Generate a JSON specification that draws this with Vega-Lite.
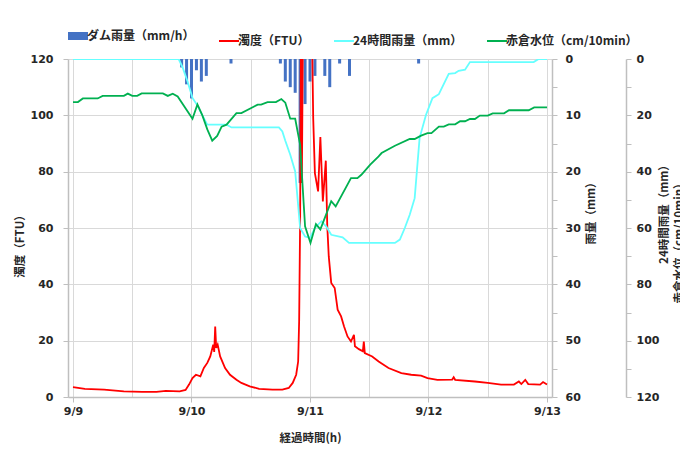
{
  "$schema": "https://vega.github.io/schema/vega-lite/v6.json",
  "width": 484,
  "height": 338,
  "autosize": {"type": "none"},
  "padding": {"left": 68, "top": 59, "right": 128, "bottom": 54},
  "background": "white",
  "config": {
    "view": {"stroke": null},
    "axis": {
      "domainColor": "#BFBFBF",
      "domainWidth": 1.5,
      "tickColor": "#BFBFBF",
      "tickWidth": 1,
      "tickSize": 5,
      "gridColor": "#D9D9D9",
      "gridWidth": 1,
      "labelFont": "DejaVu Sans",
      "labelFontSize": 11,
      "labelFontWeight": "bold",
      "labelColor": "#262626",
      "titleFont": "Noto Sans CJK JP",
      "titleFontSize": 11.5,
      "titleFontWeight": "bold",
      "titleColor": "#262626"
    }
  },
  "datasets": {
    "rain": [
      {"h": 22, "v": 1.5}, {"h": 23, "v": 4.5}, {"h": 24, "v": 7}, {"h": 25, "v": 2}, {"h": 26, "v": 4}, {"h": 27, "v": 3},
      {"h": 32, "v": 0.8}, {"h": 42, "v": 0.8}, {"h": 43, "v": 4}, {"h": 44, "v": 5}, {"h": 45, "v": 6}, {"h": 46, "v": 22},
      {"h": 47, "v": 8}, {"h": 48, "v": 4}, {"h": 49, "v": 3}, {"h": 51, "v": 3}, {"h": 52, "v": 5}, {"h": 54, "v": 0.8},
      {"h": 56, "v": 3}, {"h": 70, "v": 0.8}
    ],
    "turb": [
      {"h": 0, "v": 3.5}, {"h": 2.4, "v": 2.9}, {"h": 6.3, "v": 2.6}, {"h": 10.3, "v": 2.0}, {"h": 14, "v": 1.8}, {"h": 16.9, "v": 1.8},
      {"h": 18.8, "v": 2.2}, {"h": 21.6, "v": 2.0}, {"h": 22.8, "v": 2.5}, {"h": 23.5, "v": 4.4}, {"h": 24.2, "v": 6.7}, {"h": 24.9, "v": 7.9},
      {"h": 25.8, "v": 7.3}, {"h": 26.5, "v": 10.3}, {"h": 27.2, "v": 12.1}, {"h": 27.8, "v": 14.4}, {"h": 28.4, "v": 18.6}, {"h": 28.6, "v": 16},
      {"h": 28.8, "v": 25}, {"h": 29.0, "v": 17.4}, {"h": 29.3, "v": 18.6}, {"h": 29.8, "v": 14.4}, {"h": 30.8, "v": 10.3}, {"h": 31.8, "v": 7.9},
      {"h": 33.1, "v": 6.1}, {"h": 34.1, "v": 5}, {"h": 35.8, "v": 3.8}, {"h": 37.7, "v": 2.9}, {"h": 40.4, "v": 2.6}, {"h": 42.4, "v": 2.6},
      {"h": 43.7, "v": 3.2}, {"h": 44.5, "v": 5}, {"h": 45.2, "v": 7.9}, {"h": 45.6, "v": 12.6}, {"h": 45.8, "v": 26.8}, {"h": 46.0, "v": 62},
      {"h": 46.15, "v": 125}, {"h": 46.35, "v": 76}, {"h": 46.55, "v": 125}, {"h": 48.4, "v": 130}, {"h": 48.65, "v": 99}, {"h": 48.99, "v": 79.5},
      {"h": 49.64, "v": 73}, {"h": 50.1, "v": 92.3}, {"h": 50.6, "v": 69.4}, {"h": 51.2, "v": 83.9}, {"h": 51.5, "v": 60.6}, {"h": 51.8, "v": 49.9},
      {"h": 52.3, "v": 40.5}, {"h": 53.0, "v": 38.7}, {"h": 53.6, "v": 31}, {"h": 54.3, "v": 28.6}, {"h": 54.9, "v": 25}, {"h": 55.6, "v": 21.5},
      {"h": 56.3, "v": 19.7}, {"h": 56.9, "v": 22.1}, {"h": 57.1, "v": 18}, {"h": 57.9, "v": 17}, {"h": 58.7, "v": 16.2}, {"h": 58.9, "v": 19.7},
      {"h": 59.1, "v": 15.6}, {"h": 60.6, "v": 14.4}, {"h": 61.9, "v": 12.6}, {"h": 63.9, "v": 10.3}, {"h": 66.5, "v": 8.5}, {"h": 68.5, "v": 7.9},
      {"h": 70.5, "v": 7.6}, {"h": 71.8, "v": 6.7}, {"h": 73.8, "v": 6.1}, {"h": 76.8, "v": 6.2}, {"h": 77.1, "v": 7}, {"h": 77.4, "v": 6.1},
      {"h": 81.4, "v": 5.5}, {"h": 84.0, "v": 5}, {"h": 86.7, "v": 4.4}, {"h": 89.3, "v": 4.4}, {"h": 90.3, "v": 5.5}, {"h": 90.8, "v": 4.6},
      {"h": 91.6, "v": 6.1}, {"h": 92.2, "v": 4.6}, {"h": 94.6, "v": 4.4}, {"h": 95.2, "v": 5.3}, {"h": 96, "v": 4.4}
    ],
    "r24": [
      {"h": 0, "v": 0}, {"h": 21.4, "v": 0}, {"h": 22.2, "v": 3}, {"h": 23.2, "v": 8}, {"h": 24.2, "v": 13.8}, {"h": 25.2, "v": 16.5},
      {"h": 26.2, "v": 20}, {"h": 27.2, "v": 23.3}, {"h": 31.1, "v": 23.3}, {"h": 32.1, "v": 24.3}, {"h": 41.7, "v": 24.3}, {"h": 42.4, "v": 25.7},
      {"h": 43.0, "v": 29}, {"h": 44.0, "v": 34}, {"h": 45.0, "v": 39.9}, {"h": 46.0, "v": 60}, {"h": 47.0, "v": 63}, {"h": 48.0, "v": 63.5},
      {"h": 49.0, "v": 60}, {"h": 50.3, "v": 57.6}, {"h": 51.3, "v": 59.5}, {"h": 52.3, "v": 62.4}, {"h": 54.6, "v": 63.3}, {"h": 55.9, "v": 65.3},
      {"h": 65.2, "v": 65.3}, {"h": 66.2, "v": 64.1}, {"h": 67.2, "v": 60}, {"h": 68.2, "v": 55.3}, {"h": 69.2, "v": 49.4}, {"h": 70.2, "v": 28},
      {"h": 71.5, "v": 19.8}, {"h": 72.8, "v": 13.9}, {"h": 74.1, "v": 12.5}, {"h": 76.1, "v": 5.3}, {"h": 77.4, "v": 5.0}, {"h": 78.1, "v": 4.2},
      {"h": 79.4, "v": 3.8}, {"h": 80.4, "v": 1.1}, {"h": 93.3, "v": 1.1}, {"h": 94.3, "v": 0}, {"h": 96, "v": 0}
    ],
    "level": [
      {"h": 0, "v": 15.3}, {"h": 1.0, "v": 15.3}, {"h": 2.0, "v": 14}, {"h": 5.0, "v": 14}, {"h": 6.0, "v": 13.1}, {"h": 10.3, "v": 13.1},
      {"h": 11.1, "v": 12.3}, {"h": 12.0, "v": 13.1}, {"h": 13.0, "v": 13.1}, {"h": 13.9, "v": 12.2}, {"h": 18.2, "v": 12.2}, {"h": 19.2, "v": 13.1},
      {"h": 20.2, "v": 12.3}, {"h": 21.2, "v": 13.3}, {"h": 24.2, "v": 21.2}, {"h": 25.2, "v": 16.1}, {"h": 26.2, "v": 20}, {"h": 27.2, "v": 25},
      {"h": 28.2, "v": 29}, {"h": 29.2, "v": 27.3}, {"h": 30.1, "v": 24}, {"h": 31.1, "v": 23.3}, {"h": 33.1, "v": 19.2}, {"h": 34.1, "v": 19.2},
      {"h": 36.1, "v": 17.4}, {"h": 37.4, "v": 16.2}, {"h": 38.1, "v": 16.2}, {"h": 39.4, "v": 15.3}, {"h": 41.1, "v": 15.3}, {"h": 42.2, "v": 14.2},
      {"h": 43.0, "v": 15.5}, {"h": 44.0, "v": 21.2}, {"h": 45.0, "v": 21.2}, {"h": 46.0, "v": 30.5}, {"h": 47.0, "v": 59.4}, {"h": 48.1, "v": 65.3},
      {"h": 49.2, "v": 58.6}, {"h": 50.1, "v": 60.5}, {"h": 52.3, "v": 50.5}, {"h": 53.2, "v": 52.3}, {"h": 56.3, "v": 42.3}, {"h": 57.6, "v": 42.3},
      {"h": 58.4, "v": 41.1}, {"h": 60.2, "v": 37.5}, {"h": 61.9, "v": 34.6}, {"h": 62.5, "v": 33.4}, {"h": 65.2, "v": 30.8}, {"h": 68.2, "v": 28.4},
      {"h": 69.2, "v": 28.4}, {"h": 70.5, "v": 27.2}, {"h": 71.8, "v": 26.3}, {"h": 72.6, "v": 26.3}, {"h": 74.1, "v": 24}, {"h": 75.1, "v": 24},
      {"h": 76.1, "v": 23.2}, {"h": 77.4, "v": 23.2}, {"h": 78.4, "v": 22.1}, {"h": 79.4, "v": 22.1}, {"h": 80.4, "v": 21.3}, {"h": 81.4, "v": 21.3},
      {"h": 82.4, "v": 20.1}, {"h": 84.0, "v": 20.1}, {"h": 85.0, "v": 19.3}, {"h": 87.3, "v": 19.3}, {"h": 88.3, "v": 18.2}, {"h": 92.3, "v": 18.2},
      {"h": 93.4, "v": 17.2}, {"h": 96, "v": 17.2}
    ]
  },
  "encoding": {
    "x": {
      "field": "h",
      "type": "quantitative",
      "scale": {"domain": [0, 96], "nice": false, "zero": false},
      "axis": {
        "values": [0, 12, 24, 36, 48, 60, 72, 84, 96],
        "labelExpr": "datum.value % 24 == 0 ? '9/' + (9 + datum.value / 24) : ''",
        "grid": true,
        "tickSize": {"condition": {"test": "datum.value % 24 == 0", "value": 5}, "value": 0},
        "labelPadding": 3,
        "labelFlush": false,
        "title": "経過時間(h)",
        "titleY": 41,
        "titleBaseline": "middle"
      }
    }
  },
  "layer": [
    {
      "data": {"name": "rain"},
      "mark": {"type": "bar", "size": 3, "color": "#4472C4"},
      "encoding": {
        "y": {
          "field": "v",
          "type": "quantitative",
          "scale": {"domain": [0, 60], "reverse": true, "nice": false},
          "axis": {
            "orient": "right",
            "grid": false,
            "values": [0, 5, 10, 15, 20, 25, 30, 35, 40, 45, 50, 55, 60],
            "labelExpr": "datum.value % 10 == 0 ? datum.label : ''",
            "labelPadding": 8,
            "title": "雨量（mm）",
            "titleAngle": -90,
            "titleX": 39,
            "titleY": 151,
            "titleAlign": "center",
            "titleBaseline": "middle"
          }
        },
        "color": {
          "datum": "ダム雨量（mm/h）",
          "type": "nominal",
          "scale": {
            "domain": ["ダム雨量（mm/h）", "濁度（FTU）", "24時間雨量（mm）", "赤倉水位（cm/10min）"],
            "range": ["#4472C4", "#FF0000", "#66FFFF", "#00B050"]
          },
          "legend": {
            "orient": "none",
            "legendX": 4,
            "legendY": -29,
            "direction": "horizontal",
            "title": null,
            "symbolType": "stroke",
            "symbolSize": 400,
            "symbolStrokeWidth": 2,
            "labelFont": "Noto Sans CJK JP",
            "labelFontSize": 12,
            "labelFontWeight": "bold",
            "labelColor": "#262626",
            "labelLimit": 300,
            "labelOffset": 3,
            "columnPadding": 20,
            "encode": {
              "symbols": {
                "update": {
                  "strokeWidth": {"signal": "datum.value == 'ダム雨量（mm/h）' ? 8 : 2"},
                  "stroke": {"scale": "color", "field": "value"}
                }
              }
            }
          }
        }
      }
    },
    {
      "data": {"name": "turb"},
      "mark": {"type": "line", "clip": true, "strokeWidth": 1.8},
      "encoding": {
        "y": {
          "field": "v",
          "type": "quantitative",
          "scale": {"domain": [0, 120], "nice": false},
          "axis": {
            "orient": "left",
            "grid": true,
            "values": [0, 20, 40, 60, 80, 100, 120],
            "labelPadding": 10,
            "title": "濁度（FTU）",
            "titleAngle": -90,
            "titleX": -48,
            "titleY": 184,
            "titleAlign": "center",
            "titleBaseline": "middle"
          }
        },
        "color": {"datum": "濁度（FTU）", "type": "nominal"}
      }
    },
    {
      "data": {"name": "r24"},
      "mark": {"type": "line", "clip": true, "strokeWidth": 1.8},
      "encoding": {
        "y": {
          "field": "v",
          "type": "quantitative",
          "scale": {"domain": [0, 120], "reverse": true, "nice": false},
          "axis": {
            "orient": "right",
            "offset": 74,
            "grid": false,
            "values": [0, 10, 20, 30, 40, 50, 60, 70, 80, 90, 100, 110, 120],
            "labelExpr": "datum.value % 20 == 0 ? datum.label : ''",
            "labelPadding": 5,
            "title": "24時間雨量（mm）",
            "titleAngle": -90,
            "titleX": 38,
            "titleY": 152,
            "titleAlign": "center",
            "titleBaseline": "middle"
          }
        },
        "color": {"datum": "24時間雨量（mm）", "type": "nominal"}
      }
    },
    {
      "data": {"name": "level"},
      "mark": {"type": "line", "clip": true, "strokeWidth": 1.8},
      "encoding": {
        "y": {
          "field": "v",
          "type": "quantitative",
          "scale": {"domain": [0, 120], "reverse": true, "nice": false},
          "axis": {
            "orient": "right",
            "offset": 74,
            "grid": false,
            "domain": false,
            "ticks": false,
            "labels": false,
            "title": "赤倉水位（cm/10min）",
            "titleAngle": -90,
            "titleX": 53,
            "titleY": 181,
            "titleAlign": "center",
            "titleBaseline": "middle"
          }
        },
        "color": {"datum": "赤倉水位（cm/10min）", "type": "nominal"}
      }
    }
  ],
  "resolve": {"scale": {"y": "independent"}, "axis": {"y": "independent"}}
}
